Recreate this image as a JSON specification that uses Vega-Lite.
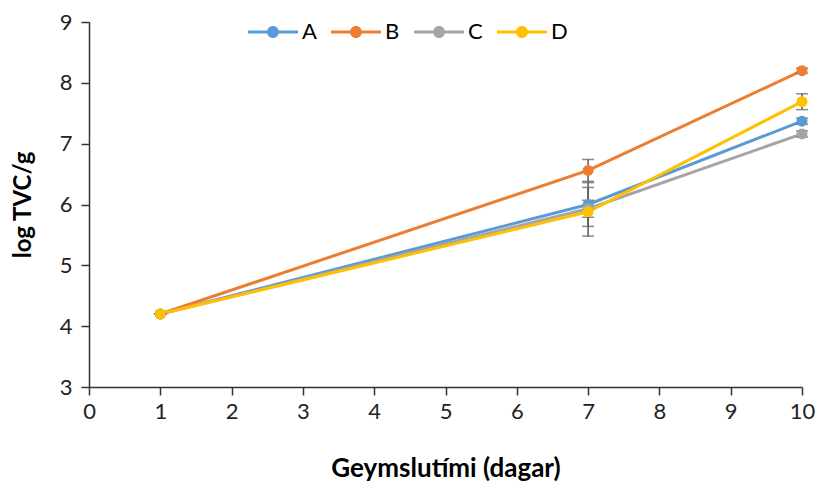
{
  "$schema": "https://vega.github.io/schema/vega-lite/v6.json",
  "width": 713,
  "height": 365,
  "autosize": {"type": "none"},
  "padding": {"left": 89, "top": 22, "right": 15, "bottom": 95},
  "background": "white",
  "config": {
    "view": {"stroke": null},
    "font": "Lato",
    "axis": {"grid": false, "domainColor": "#333333", "tickColor": "#333333", "labelColor": "#222222", "titleColor": "#000000", "labelFont": "Lato", "titleFont": "Lato", "labelFontSize": 22, "titleFontSize": 24, "titleFontWeight": "bold", "tickSize": 8, "domainWidth": 1.5, "tickWidth": 1.5, "format": "d", "labelFlush": false}
  },
  "data": {
    "values": [
      {"day": 1, "group": "A", "value": 4.2, "err": 0.0},
      {"day": 7, "group": "A", "value": 6.0, "err": 0.36},
      {"day": 10, "group": "A", "value": 7.37, "err": 0.05},
      {"day": 1, "group": "B", "value": 4.2, "err": 0.0},
      {"day": 7, "group": "B", "value": 6.56, "err": 0.18},
      {"day": 10, "group": "B", "value": 8.2, "err": 0.04},
      {"day": 1, "group": "C", "value": 4.2, "err": 0.0},
      {"day": 7, "group": "C", "value": 5.93, "err": 0.14},
      {"day": 10, "group": "C", "value": 7.16, "err": 0.05},
      {"day": 1, "group": "D", "value": 4.2, "err": 0.0},
      {"day": 7, "group": "D", "value": 5.88, "err": 0.4},
      {"day": 10, "group": "D", "value": 7.69, "err": 0.13}
    ]
  },
  "encoding": {
    "x": {"field": "day", "type": "quantitative", "title": "Geymslutími (dagar)",
      "scale": {"domain": [0, 10], "nice": false},
      "axis": {"values": [0,1,2,3,4,5,6,7,8,9,10], "labelPadding": 6, "titleY": 68, "titleFontSize": 26, "format": "d", "labelFlush": false}},
    "color": {"field": "group", "type": "nominal",
      "scale": {"domain": ["A","B","C","D"], "range": ["#5B9BD5","#ED7D31","#A5A5A5","#FFC000"]},
      "legend": {"title": null, "orient": "none", "direction": "horizontal", "legendX": 159, "legendY": -15,
        "symbolType": "M-1,-0.06H1V0.06H-1Z M0.24,0A0.24,0.24 0 1 1 -0.24,0A0.24,0.24 0 1 1 0.24,0Z",
        "symbolSize": 2500, "symbolStrokeWidth": 0, "labelFontSize": 22, "labelFont": "Lato", "labelColor": "#000000", "labelOffset": 4, "columnPadding": 14,
        "encode": {"symbols": {"update": {"fill": {"scale": "color", "field": "value"}, "strokeWidth": {"value": 0}, "opacity": {"value": 1}}}}}
    }
  },
  "layer": [
    {
      "mark": {"type": "line", "strokeWidth": 3},
      "encoding": {"y": {"field": "value", "type": "quantitative", "title": "log TVC/g",
        "scale": {"domain": [3, 9], "nice": false},
        "axis": {"values": [3,4,5,6,7,8,9], "labelPadding": 9, "titleX": -54, "format": "d", "labelFlush": false}}}
    },
    {
      "mark": {"type": "errorbar", "ticks": {"size": 12, "thickness": 1.5}, "rule": {"strokeWidth": 1.5}, "color": "#595959"},
      "encoding": {"y": {"field": "value", "type": "quantitative", "title": "log TVC/g"}, "yError": {"field": "err"}, "color": {"value": "#595959"}}
    },
    {
      "mark": {"type": "point", "filled": true, "size": 120, "opacity": 1},
      "encoding": {"y": {"field": "value", "type": "quantitative", "title": "log TVC/g"}}
    }
  ]
}
